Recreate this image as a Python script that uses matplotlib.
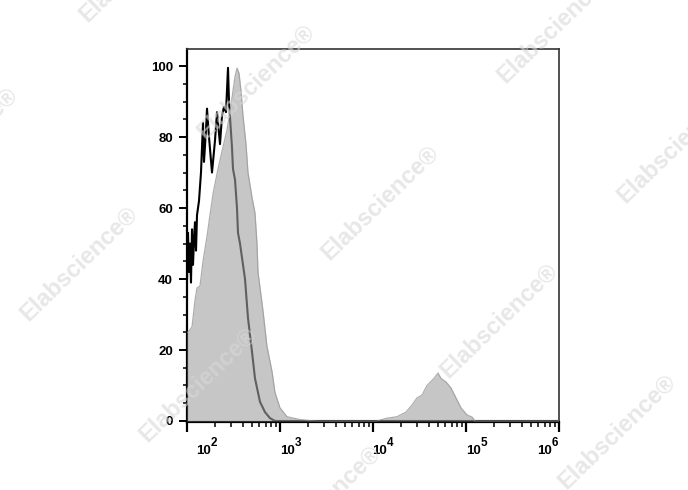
import numpy as np
import matplotlib
matplotlib.use("Agg")
import matplotlib.pyplot as plt
import matplotlib.transforms as mtransforms
from matplotlib.ticker import FixedLocator, NullFormatter

plt.rcParams['font.family'] = ['Liberation Sans', 'DejaVu Sans']

# black (unfilled) histogram: intensity, % of max
black_x = [100, 102.5, 105.1, 107.7, 110.4, 113.2, 116.0, 118.9, 121.9, 125.0,
           128.1, 134.6, 141.4, 148.6, 152.3, 160.1, 164.1, 172.4, 185.7, 200.0,
           210.2, 226.4, 237.9, 249.9, 262.6, 276.0, 282.9, 304.7, 312.3, 328.2,
           344.8, 353.5, 371.4, 420.4, 452.8, 499.9, 538.4, 609.4, 689.8, 780.8,
           883.7, 1e6]
black_y = [40, 53, 42, 50, 39, 54, 44, 51, 56, 48,
           58, 62, 70, 84, 73, 82, 88, 80, 70, 79,
           87, 78, 86, 88.5, 87, 99.5, 90, 77, 71, 68,
           60, 53, 50, 40, 29, 19.5, 12, 5.4, 2.5, 0.8,
           0, 0]

# grey (filled) histogram
grey_x = [100, 102.5, 113.2, 121.9, 128.1, 138.0, 148.6, 164.1, 176.7, 190.4,
          215.4, 237.9, 269.2, 290.0, 312.3, 328.2, 344.8, 362.3, 380.7, 400.0,
          431.0, 452.8, 499.9, 538.4, 565.7, 579.9, 656.4, 724.5, 820.0, 883.7,
          1000, 1189, 1641, 2102, 2692,
          11040, 14140, 18120, 22640, 26260, 29720, 33640, 38070, 45280, 49990,
          53840, 60940, 68980, 78080, 88370, 102500, 116000, 125000, 1e6]
grey_y = [25, 25, 26.5, 34, 37.5, 38, 45, 52, 58, 64,
          71, 76, 82, 87, 93, 97, 99.4, 98, 93, 86,
          78, 70, 63, 58.6, 50, 42, 31, 21, 14, 8,
          3.7, 1.2, 0.4, 0.1, 0,
          0, 0.8, 1.2, 2.5, 4.5, 6.5, 7.3, 10, 12, 13.5,
          12, 11, 9.3, 6.5, 3.7, 1.7, 1.1, 0, 0]

y_ticks = [0, 20, 40, 60, 80, 100]
x_exps = ['2', '3', '4', '5', '6']
x_label_pos = [126, 1000, 9750, 1e5, 5.8e5]

watermark = 'Elabscience®'
wm_centers = [(138, -35), (-41, 145), (256, 82), (556, 26), (380, 203), (676, 146),
              (79, 264), (499, 321), (198, 385), (617, 432), (322, 503)]

fig = plt.figure(figsize=(6.88, 4.9), dpi=100)
ax = fig.add_axes([0.2718, 0.1388, 0.5407, 0.7612])

ax.plot(black_x, black_y, color='black', lw=1.5, zorder=2)
ax.fill_between(grey_x, grey_y, 0, color='#a0a0a0', alpha=0.6, lw=0, zorder=3)
ax.plot(grey_x, grey_y, color='#9a9a9a', lw=0.9, alpha=0.8, zorder=3)

ax.set_xscale('log')
ax.set_xlim(100, 1e6)
ax.set_ylim(-0.28, 104.8)

ax.set_yticks(y_ticks)
ax.set_yticklabels([str(v) for v in y_ticks], fontweight='bold')
ax.yaxis.set_minor_locator(FixedLocator(np.arange(0, 105, 5)))
ax.tick_params(axis='y', which='major', length=6, width=1.4, labelsize=9.5, pad=4)
ax.tick_params(axis='y', which='minor', length=3, width=1.1)
ax.set_xticks([1e2, 1e3, 1e4, 1e5, 1e6])
ax.set_xticklabels([])
ax.xaxis.set_minor_locator(FixedLocator([m * 10**e for e in range(2, 6) for m in range(2, 10)]))
ax.xaxis.set_minor_formatter(NullFormatter())
ax.tick_params(axis='x', which='major', length=7, width=1.6)
ax.tick_params(axis='x', which='minor', length=3.5, width=1.1)

for s in ['left', 'bottom']:
    ax.spines[s].set_linewidth(1.6)
for s in ['top', 'right']:
    ax.spines[s].set_linewidth(1.2)
    ax.spines[s].set_color('#333333')

trans = mtransforms.blended_transform_factory(ax.transData, fig.transFigure)
for ex, xp in zip(x_exps, x_label_pos):
    ax.annotate('10', xy=(xp, 1 - 454 / 490), xycoords=trans, ha='left', va='baseline',
                fontsize=9.5, fontweight='bold', annotation_clip=False)
    ax.annotate(ex, xy=(xp, 1 - 454 / 490), xycoords=trans, xytext=(10.5, 5.5),
                textcoords='offset points', ha='left', va='baseline',
                fontsize=8.5, fontweight='bold', annotation_clip=False)

for cx, cy in wm_centers:
    fig.text(cx / 688, 1 - cy / 490, watermark, rotation=44, ha='center', va='center',
             rotation_mode='anchor', fontsize=17, fontweight='bold',
             color='#d8d8d8', alpha=0.6, zorder=10)

fig.savefig('out.png', dpi=100)
